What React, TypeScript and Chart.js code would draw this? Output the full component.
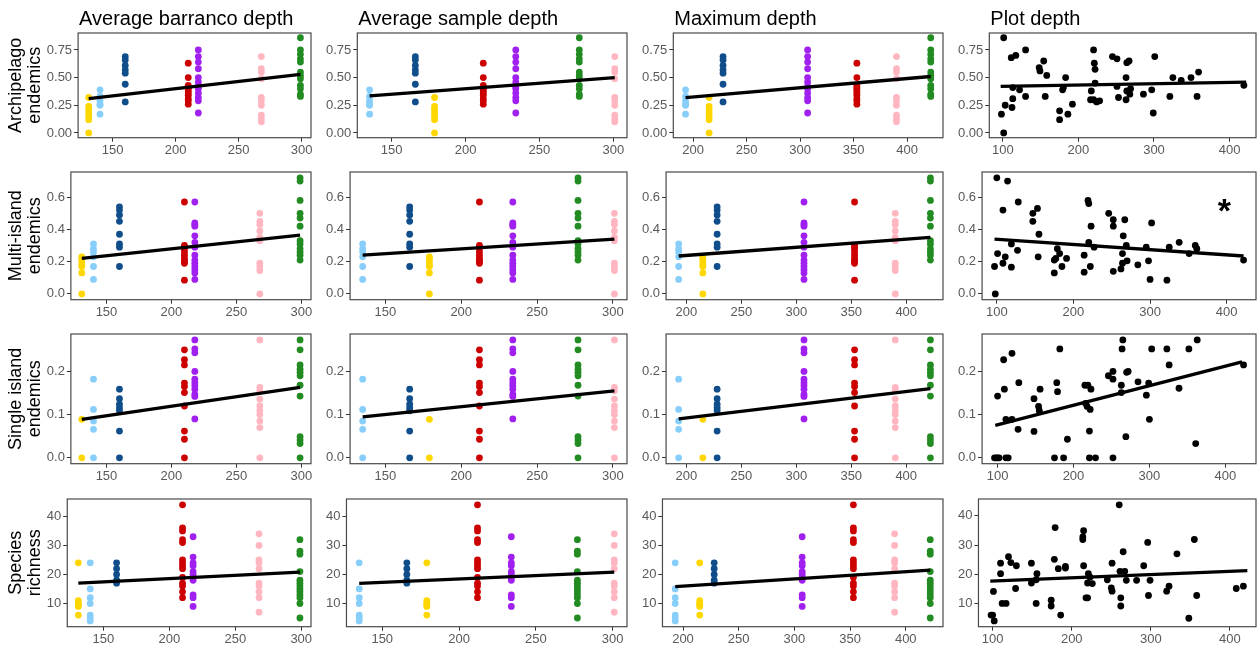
import React, { useEffect, useRef } from 'react';
import { Chart, registerables } from 'chart.js';

Chart.register(...registerables);

// ---------- Sites (colour order) ----------
const siteColors = ['#87CEFA', '#FFD700', '#104E8B', '#CD0000', '#A020F0', '#FFB6C1', '#228B22'];

// Site-level predictors (one value per site, same order as siteColors)
const barrancoDepth = [140, 131, 160, 210, 218, 268, 299];
const sampleDepth = [135, 179, 166, 212, 234, 301, 277];
const maxDepth = [193, 215, 228, 353, 307, 390, 422];

// Responses per site (plots within each site)
const archipelagoBySite = [
  [0.39, 0.33, 0.29, 0.26, 0.25, 0.17],
  [0.32, 0.24, 0.21, 0.18, 0.15, 0.12, 0.0],
  [0.69, 0.66, 0.61, 0.57, 0.54, 0.44, 0.28],
  [0.63, 0.5, 0.43, 0.41, 0.4, 0.38, 0.36, 0.34, 0.31, 0.29, 0.26],
  [0.75, 0.69, 0.64, 0.58, 0.5, 0.46, 0.42, 0.4, 0.36, 0.32, 0.29, 0.18],
  [0.69, 0.58, 0.55, 0.49, 0.32, 0.29, 0.25, 0.16, 0.13, 0.1],
  [0.86, 0.75, 0.71, 0.67, 0.64, 0.55, 0.52, 0.49, 0.43, 0.4, 0.35, 0.33],
];
const multiIslandBySite = [
  [0.31, 0.28, 0.26, 0.23, 0.17, 0.09],
  [0.23, 0.22, 0.2, 0.18, 0.17, 0.13, 0.0],
  [0.54, 0.52, 0.49, 0.45, 0.37, 0.31, 0.29, 0.17],
  [0.57, 0.3, 0.29, 0.28, 0.26, 0.24, 0.22, 0.21, 0.2, 0.19, 0.085],
  [0.57, 0.44, 0.43, 0.42, 0.36, 0.32, 0.29, 0.24, 0.21, 0.19, 0.17, 0.15, 0.13, 0.09],
  [0.5, 0.45, 0.43, 0.39, 0.35, 0.33, 0.19, 0.17, 0.145, 0.0],
  [0.72, 0.7, 0.58, 0.5, 0.47, 0.42, 0.33, 0.31, 0.28, 0.26, 0.24, 0.21],
];
const singleIslandBySite = [
  [0.182, 0.112, 0.085, 0.066, 0.0],
  [0.089, 0.0],
  [0.159, 0.137, 0.124, 0.116, 0.109, 0.062, 0.0],
  [0.25, 0.227, 0.215, 0.173, 0.165, 0.151, 0.12, 0.062, 0.043, 0.0],
  [0.273, 0.252, 0.243, 0.2, 0.182, 0.174, 0.167, 0.159, 0.147, 0.142, 0.09],
  [0.273, 0.163, 0.155, 0.136, 0.12, 0.109, 0.1, 0.085, 0.07, 0.0],
  [0.273, 0.25, 0.215, 0.205, 0.198, 0.19, 0.168, 0.143, 0.049, 0.041, 0.033, 0.0],
];
const richnessBySite = [
  [24, 15, 12, 10, 6, 5, 4],
  [24, 11, 10, 9.5, 9, 6],
  [24, 22, 20, 18, 17],
  [44, 36, 35, 32, 31, 25, 24, 23, 22, 19, 17, 16, 14, 12],
  [33, 26, 24, 23, 21, 20, 19, 18, 13, 12, 9],
  [34, 30, 25, 24, 22, 17, 16, 14, 12, 7],
  [32, 28, 27, 21, 18, 17, 16, 15, 14, 13, 12, 10, 5],
];

// Plot-level data (plot depth vs response)
const pdArchX = [98, 101, 101, 103, 111, 113, 113, 112, 117, 122, 130, 130, 148, 149, 154, 158, 156, 175, 175, 180, 179, 183, 186, 192, 220, 221, 222, 217, 216, 220, 222, 224, 228, 245, 251, 251, 253, 263, 264, 267, 263, 269, 268, 264, 286, 297, 299, 301, 321, 325, 336, 349, 359, 357, 419];
const pdArchY = [0.17, 0.86, 0.0, 0.25, 0.68, 0.41, 0.31, 0.23, 0.7, 0.39, 0.75, 0.33, 0.59, 0.56, 0.65, 0.52, 0.33, 0.2, 0.12, 0.41, 0.39, 0.5, 0.17, 0.26, 0.75, 0.63, 0.575, 0.38, 0.3, 0.3, 0.45, 0.28, 0.29, 0.69, 0.67, 0.42, 0.32, 0.5, 0.635, 0.65, 0.3, 0.4, 0.35, 0.38, 0.35, 0.39, 0.18, 0.69, 0.33, 0.5, 0.475, 0.5, 0.55, 0.33, 0.43];
const pdMultiX = [97, 100, 98, 101, 108, 108, 111, 114, 119, 119, 128, 127, 147, 147, 153, 155, 154, 175, 175, 177, 179, 182, 185, 191, 214, 214, 219, 220, 220, 222, 223, 227, 246, 252, 252, 252, 262, 264, 264, 265, 267, 269, 270, 284, 295, 298, 300, 302, 322, 325, 338, 351, 359, 361, 422];
const pdMultiY = [0.17, 0.72, 0.0, 0.25, 0.52, 0.19, 0.23, 0.7, 0.166, 0.31, 0.57, 0.27, 0.5, 0.45, 0.53, 0.37, 0.23, 0.13, 0.21, 0.22, 0.28, 0.25, 0.17, 0.22, 0.24, 0.135, 0.58, 0.56, 0.32, 0.17, 0.42, 0.29, 0.5, 0.46, 0.42, 0.14, 0.155, 0.19, 0.25, 0.36, 0.46, 0.3, 0.205, 0.18, 0.29, 0.205, 0.09, 0.44, 0.085, 0.29, 0.32, 0.25, 0.3, 0.28, 0.21];
const pdSingleX = [96, 98, 100, 102, 100, 108, 109, 111, 111, 114, 119, 119, 128, 127, 148, 148, 154, 155, 156, 175, 178, 179, 182, 187, 192, 215, 216, 218, 219, 221, 221, 222, 223, 229, 246, 252, 252, 252, 263, 264, 265, 263, 269, 270, 272, 285, 296, 299, 300, 303, 323, 326, 339, 352, 361, 363, 424];
const pdSingleY = [0, 0, 0, 0, 0.143, 0.227, 0.159, 0.089, 0, 0, 0.089, 0.242, 0.174, 0.066, 0.137, 0.061, 0.119, 0.109, 0.159, 0, 0.174, 0.153, 0.252, 0, 0.043, 0.168, 0.126, 0.119, 0.168, 0.062, 0, 0.112, 0.159, 0, 0.19, 0.2, 0.182, 0, 0.168, 0.252, 0.273, 0.151, 0.049, 0.198, 0.2, 0.176, 0.145, 0.173, 0.089, 0.252, 0.252, 0.215, 0.161, 0.252, 0.033, 0.273, 0.215];
const pdRichX = [98, 102, 100, 101, 110, 110, 112, 117, 120, 123, 129, 130, 149, 149, 155, 156, 155, 174, 174, 178, 179, 183, 186, 192, 192, 214, 214, 215, 215, 218, 220, 220, 221, 223, 226, 245, 251, 250, 251, 260, 261, 262, 262, 265, 267, 269, 282, 291, 296, 297, 299, 320, 323, 333, 348, 355, 358, 408, 417];
const pdRichY = [6, 4, 6, 14.1, 20.2, 23.8, 10, 10, 26, 24, 15.1, 22.9, 23.8, 17, 18.1, 20.2, 10, 11.1, 9.1, 25.1, 36, 21.9, 6, 22.7, 22.1, 32.8, 31.9, 34.9, 22.9, 11.9, 11.9, 17, 20.2, 19, 16.8, 18.1, 23.8, 15.3, 14.2, 43.8, 21, 9.1, 11.9, 27.7, 21, 17.9, 17.9, 22.9, 30.9, 12.7, 17.9, 14.2, 15.9, 27, 4.9, 31.9, 12.7, 15.1, 15.9];

// Fitted regression lines: [y at start, y at end] per column
const fitX = [[131, 299], [135, 301], [193, 422], [97, 422]];
const fitArch = [[0.31, 0.53], [0.335, 0.5], [0.32, 0.51], [0.42, 0.46]];
const fitMulti = [[0.22, 0.365], [0.24, 0.34], [0.235, 0.35], [0.34, 0.235]];
const fitSingle = [[0.089, 0.163], [0.095, 0.155], [0.09, 0.16], [0.075, 0.222]];
const fitRich = [[17.0, 20.8], [16.9, 20.8], [15.8, 21.5], [17.6, 21.2]];

// Titles & ticks
const columnTitles = ['Average barranco depth', 'Average sample depth', 'Maximum depth', 'Plot depth'];
const rowTitles = [['Archipelago', 'endemics'], ['Multi-island', 'endemics'], ['Single island', 'endemics'], ['Species', 'richness']];
const yTickValues = [[0, 0.25, 0.5, 0.75], [0, 0.2, 0.4, 0.6], [0, 0.1, 0.2], [10, 20, 30, 40]];
const yTickDecimals = [2, 1, 1, 0];
const xTickValues = [[150, 200, 250, 300], [150, 200, 250, 300], [200, 250, 300, 350, 400], [100, 200, 300, 400]];
const significance = [{ row: 1, col: 3, x: 397, y: 0.53, label: '*' }];

const predictors = [barrancoDepth, sampleDepth, maxDepth];
const responses = [archipelagoBySite, multiIslandBySite, singleIslandBySite, richnessBySite];
const plotDepthX = [pdArchX, pdMultiX, pdSingleX, pdRichX];
const plotDepthY = [pdArchY, pdMultiY, pdSingleY, pdRichY];
const fits = [fitArch, fitMulti, fitSingle, fitRich];

// ---------- Layout ----------
const FONT = '"Liberation Sans", Arial, Helvetica, sans-serif';
const cellLeft = [0, 316, 632, 947];
const cellWidth = [315, 315, 315, 313];
const cellTop = [0, 162, 324, 486];
const cellHeight = 162;
const padTop = [33, 10, 10, 13];
const padBottom = [2, 2, 0, -1];
const padLeft = [7, 8, 8, 9];
const padRight = [3, 3, 3, 1];

function expand(min: number, max: number): [number, number] {
  const d = (max - min) * 0.05;
  return [min - d, max + d];
}

function buildConfig(row: number, col: number): any {
  const datasets: any[] = [];
  const xs: number[] = [];
  const ys: number[] = [];
  if (col < 3) {
    const px = predictors[col];
    responses[row].forEach((vals, s) => {
      datasets.push({
        data: vals.map((v) => ({ x: px[s], y: v })),
        backgroundColor: siteColors[s],
        borderWidth: 0,
        pointRadius: 3.4,
        order: 1,
      });
      vals.forEach((v) => { xs.push(px[s]); ys.push(v); });
    });
  } else {
    const X = plotDepthX[row];
    const Y = plotDepthY[row];
    datasets.push({
      data: X.map((x, i) => ({ x, y: Y[i] })),
      backgroundColor: '#000000',
      borderWidth: 0,
      pointRadius: 3.4,
      order: 1,
    });
    X.forEach((x, i) => { xs.push(x); ys.push(Y[i]); });
  }
  const f = fits[row][col];
  datasets.unshift({
    data: [{ x: fitX[col][0], y: f[0] }, { x: fitX[col][1], y: f[1] }],
    showLine: true,
    borderColor: '#000000',
    borderWidth: 3.3,
    pointRadius: 0,
    order: 0,
  });

  const [xmin, xmax] = expand(Math.min(...xs), Math.max(...xs));
  const [ymin, ymax] = expand(Math.min(...ys), Math.max(...ys));
  const tickFont = { family: FONT, size: 13, lineHeight: 1.1 };
  const gridCommon = {
    display: true,
    drawOnChartArea: false,
    drawTicks: true,
    tickLength: 4,
    color: '#333333',
    tickColor: '#333333',
    tickWidth: 1,
  };

  const frameAndTitle = {
    id: 'frameAndTitle',
    afterDraw(chart: any) {
      const { ctx, chartArea } = chart;
      ctx.save();
      ctx.strokeStyle = '#4a4a4a';
      ctx.lineWidth = 1.2;
      ctx.strokeRect(chartArea.left, chartArea.top, chartArea.right - chartArea.left, chartArea.bottom - chartArea.top);
      if (row === 0) {
        ctx.fillStyle = '#000000';
        ctx.font = `20px ${FONT}`;
        ctx.textAlign = 'left';
        ctx.textBaseline = 'alphabetic';
        ctx.fillText(columnTitles[col], chartArea.left + 1, 25);
      }
      significance.forEach((s) => {
        if (s.row === row && s.col === col) {
          const x = chart.scales.x.getPixelForValue(s.x);
          const y = chart.scales.y.getPixelForValue(s.y);
          ctx.fillStyle = '#000000';
          ctx.font = `bold 34px ${FONT}`;
          ctx.textAlign = 'center';
          ctx.textBaseline = 'alphabetic';
          ctx.fillText(s.label, x, y + 14);
        }
      });
      ctx.restore();
    },
  };

  return {
    type: 'scatter',
    data: { datasets },
    options: {
      responsive: false,
      animation: false,
      devicePixelRatio: 1,
      events: [],
      layout: { padding: { top: padTop[row], bottom: padBottom[row], left: padLeft[col], right: padRight[col] } },
      plugins: { legend: { display: false }, tooltip: { enabled: false }, title: { display: false } },
      scales: {
        x: {
          type: 'linear',
          min: xmin,
          max: xmax,
          afterBuildTicks: (scale: any) => { scale.ticks = xTickValues[col].map((v) => ({ value: v })); },
          ticks: { color: '#595959', font: tickFont, padding: 2, maxRotation: 0, autoSkip: false, callback: (v: any) => String(v) },
          grid: gridCommon,
          border: { display: false },
        },
        y: {
          type: 'linear',
          min: ymin,
          max: ymax,
          afterBuildTicks: (scale: any) => { scale.ticks = yTickValues[row].map((v) => ({ value: v })); },
          ticks: { color: '#595959', font: tickFont, padding: 2, autoSkip: false, callback: (v: any) => Number(v).toFixed(yTickDecimals[row]) },
          grid: gridCommon,
          border: { display: false },
          title: {
            display: col === 0,
            text: rowTitles[row],
            color: '#000000',
            font: { family: FONT, size: 18, lineHeight: 1.05 },
            padding: { top: 0, bottom: 0 },
          },
        },
      },
    },
    plugins: [frameAndTitle],
  };
}

function Panel({ row, col }: { row: number; col: number }) {
  const ref = useRef<HTMLCanvasElement | null>(null);
  useEffect(() => {
    if (!ref.current) return;
    const chart = new Chart(ref.current, buildConfig(row, col));
    return () => chart.destroy();
  }, [row, col]);
  return (
    <canvas
      ref={ref}
      width={cellWidth[col]}
      height={cellHeight}
      style={{ position: 'absolute', left: cellLeft[col], top: cellTop[row], width: cellWidth[col], height: cellHeight }}
    />
  );
}

export default function App() {
  const cells: React.ReactNode[] = [];
  for (let r = 0; r < 4; r++) {
    for (let c = 0; c < 4; c++) {
      cells.push(<Panel key={`${r}-${c}`} row={r} col={c} />);
    }
  }
  return (
    <div style={{ position: 'absolute', left: 0, top: 0, width: 1260, height: 648, background: '#ffffff', overflow: 'hidden' }}>
      {cells}
    </div>
  );
}
